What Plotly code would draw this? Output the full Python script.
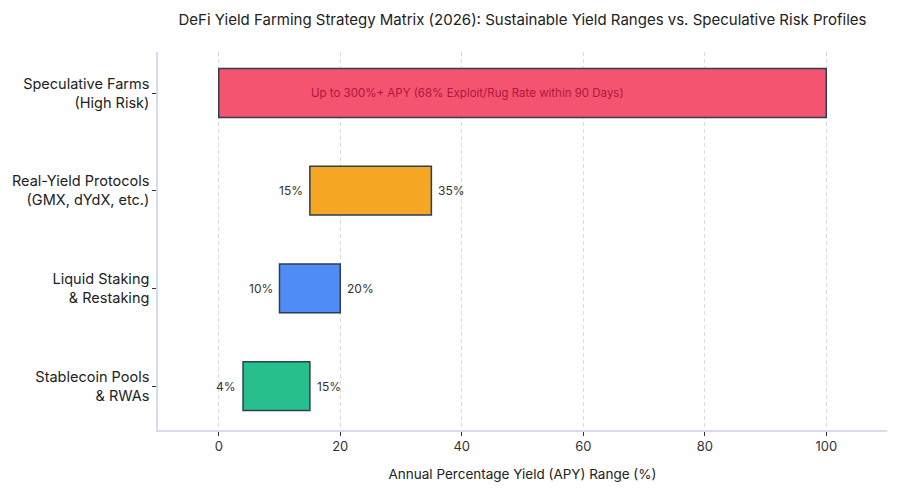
import plotly.graph_objects as go

categories = ["Stablecoin Pools<br>& RWAs", "Liquid Staking<br>& Restaking",
              "Real-Yield Protocols<br>(GMX, dYdX, etc.)", "Speculative Farms<br>(High Risk)"]
low_vals = [4, 10, 15, 0]
high_vals = [15, 20, 35, 100]
colors = ["#27C08D", "#4F8CF6", "#F5A623", "#F4546F"]
show_labels = [True, True, True, False]
spec_note = "Up to 300%+ APY (68% Exploit/Rug Rate within 90 Days)"
spec_note_x = 41
x_ticks = [0, 20, 40, 60, 80, 100]

FONT = "Inter"

fig = go.Figure()
fig.add_trace(go.Bar(
    y=categories,
    x=[h - l for l, h in zip(low_vals, high_vals)],
    base=low_vals,
    orientation="h",
    width=0.5,
    marker=dict(color=colors, line=dict(color="#2C3E50", width=1.5)),
    hoverinfo="skip",
    showlegend=False,
))

annotations = []
for cat, lo, hi, show in zip(categories, low_vals, high_vals, show_labels):
    if not show:
        continue
    annotations.append(dict(x=lo, y=cat, text=f"{lo}%", showarrow=False,
                            xanchor="right", xshift=-5,
                            font=dict(size=12, color="#333333", family=FONT)))
    annotations.append(dict(x=hi, y=cat, text=f"{hi}%", showarrow=False,
                            xanchor="left", xshift=5,
                            font=dict(size=12, color="#333333", family=FONT)))
annotations.append(dict(x=spec_note_x, y=categories[3], text=spec_note, showarrow=False,
                        xanchor="center",
                        font=dict(size=11.5, color="#B0163E", family=FONT)))

fig.update_layout(
    width=900, height=495,
    margin=dict(l=158, r=13, t=52, b=65),
    paper_bgcolor="white", plot_bgcolor="white",
    font=dict(family=FONT, color="#222222"),
    title=dict(text="DeFi Yield Farming Strategy Matrix (2026): Sustainable Yield Ranges vs. Speculative Risk Profiles",
               x=0.5, xref="paper", xanchor="center", y=0.96, yanchor="middle",
               font=dict(size=15, color="#222222", family=FONT)),
    annotations=annotations,
    bargap=0.5,
)
fig.update_xaxes(
    range=[-10, 110], tickvals=x_ticks, showgrid=True,
    gridcolor="#DADADA", griddash="4px,3px", gridwidth=1,
    zeroline=False, showline=True, linecolor="#D6DCEB", linewidth=1.5,
    ticks="outside", ticklen=4, tickcolor="#333333",
    tickfont=dict(size=13, color="#333333"),
    title=dict(text="Annual Percentage Yield (APY) Range (%)", font=dict(size=13.5, color="#222222"), standoff=16),
    layer="above traces",
)
fig.update_yaxes(
    range=[-0.45, 3.42], showgrid=False, zeroline=False,
    showline=True, linecolor="#D6DCEB", linewidth=1.5,
    ticks="outside", ticklen=4, tickcolor="#333333",
    tickfont=dict(size=14.5, color="#222222"),
)

fig.write_html("out.html")
